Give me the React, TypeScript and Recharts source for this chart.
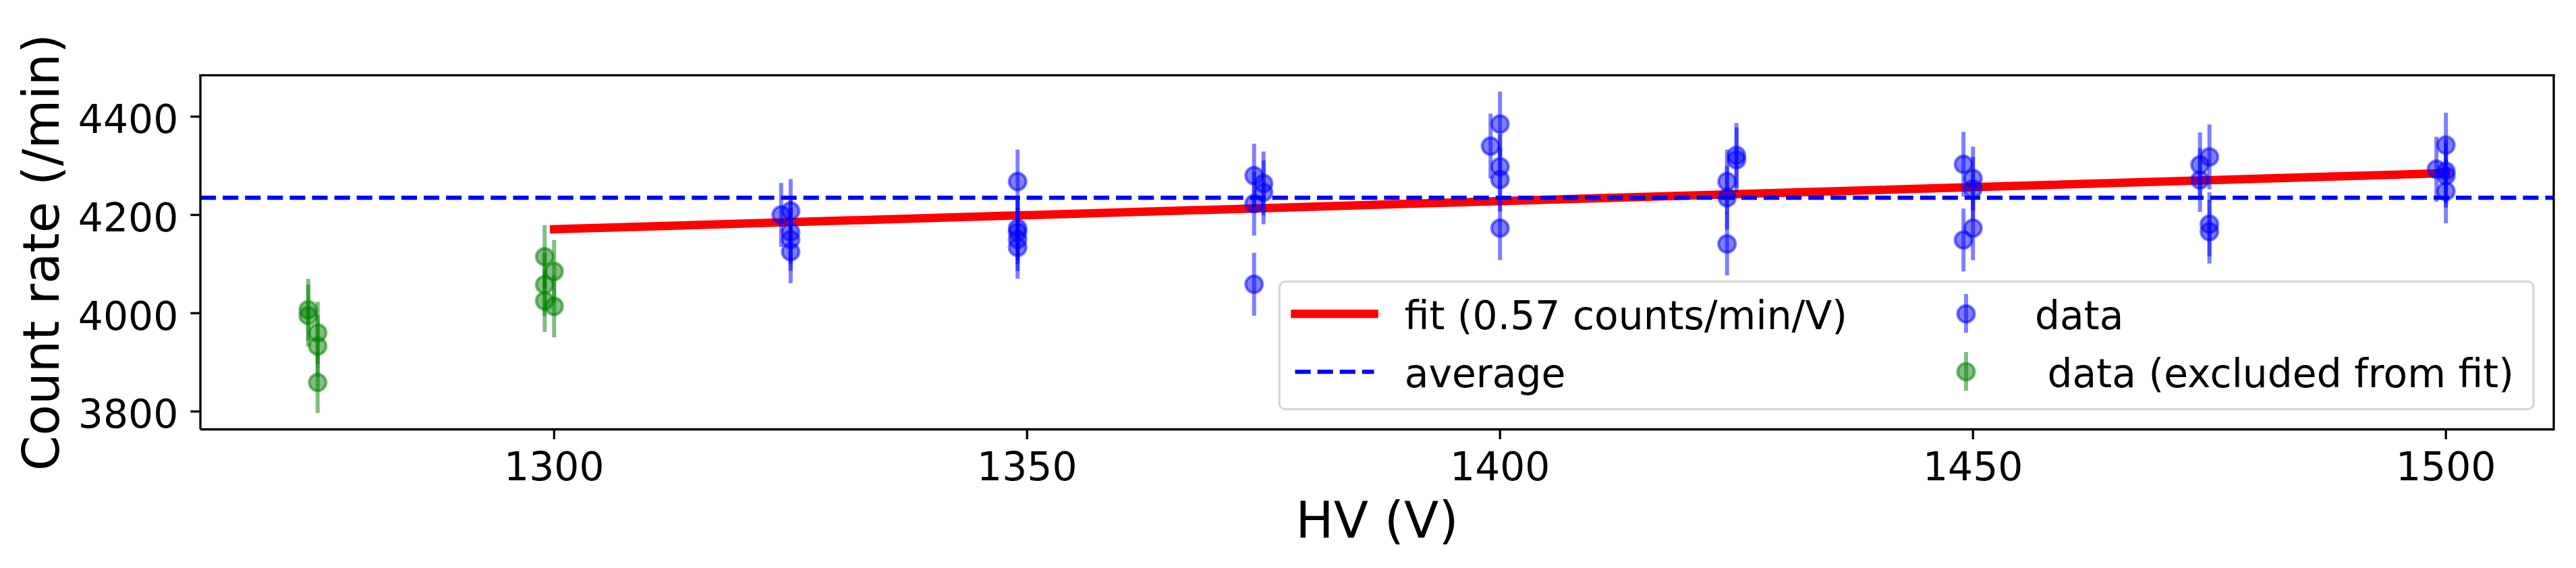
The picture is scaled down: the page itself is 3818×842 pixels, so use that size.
import React from 'react';
import {
  ScatterChart,
  Scatter,
  XAxis,
  YAxis,
  ErrorBar,
  ReferenceLine,
  Legend,
  Label,
} from 'recharts';

// ---------- data ----------
const dataHV = [
  1324, 1325, 1325, 1325, 1325,
  1349, 1349, 1349, 1349, 1349,
  1374, 1374, 1374, 1375, 1375,
  1399, 1400, 1400, 1400, 1400,
  1424, 1424, 1424, 1425, 1425,
  1449, 1449, 1450, 1450, 1450,
  1474, 1474, 1475, 1475, 1475,
  1499, 1500, 1500, 1500, 1500,
];
const dataRate = [
  4200, 4208, 4165, 4150, 4125,
  4268, 4173, 4165, 4150, 4134,
  4280, 4223, 4059, 4264, 4246,
  4340, 4385, 4298, 4272, 4173,
  4268, 4235, 4141, 4321, 4312,
  4303, 4149, 4274, 4253, 4173,
  4302, 4271, 4318, 4181, 4166,
  4293, 4342, 4289, 4280, 4248,
];
const dataErr = [
  65, 65, 65, 64, 64,
  65, 65, 65, 64, 64,
  65, 65, 64, 65, 65,
  66, 66, 66, 65, 65,
  65, 65, 64, 66, 66,
  66, 64, 65, 65, 65,
  66, 65, 66, 65, 65,
  66, 66, 65, 65, 65,
];

const excludedHV = [1274, 1274, 1275, 1275, 1275, 1299, 1299, 1299, 1300, 1300];
const excludedRate = [4007, 3995, 3960, 3933, 3859, 4115, 4058, 4025, 4085, 4014];
const excludedErr = [63, 63, 63, 63, 62, 64, 64, 63, 64, 63];

const fitHV = [1300, 1500];
const fitRate = [4171, 4285];
const averageRate = 4235;

const xTicks = [1300, 1350, 1400, 1450, 1500];
const yTicks = [3800, 4000, 4200, 4400];
const xDomain = [1262.6, 1511.4];
const yDomain = [3763.6, 4484];

const titleText = 'He3';
const xLabelText = 'HV (V)';
const yLabelText = 'Count rate (/min)';
const legendLabels = ['fit (0.57 counts/min/V)', 'average', 'data', ' data (excluded from fit)'];

// ---------- derived tables ----------
const dataPoints = dataHV.map((x, i) => ({ x, y: dataRate[i], err: dataErr[i] }));
const excludedPoints = excludedHV.map((x, i) => ({ x, y: excludedRate[i], err: excludedErr[i] }));
const fitSegment = fitHV.map((x, i) => ({ x, y: fitRate[i] }));

// ---------- styles ----------
const FONT = '"DejaVu Sans", Verdana, sans-serif';
const TICK_FS = 58.33;
const LABEL_FS = 75;
const SPINE = 3.3;
const BLUE = '#0000ff';
const GREEN = '#008000';
const RED = '#ff0000';

const makeDot = (color: string) => (props: any) => {
  const { cx, cy } = props;
  if (cx == null || cy == null) return <g />;
  return (
    <circle
      cx={cx}
      cy={cy}
      r={12.5}
      fill={color}
      fillOpacity={0.5}
      stroke={color}
      strokeOpacity={0.5}
      strokeWidth={4.2}
    />
  );
};

const XTick = (props: any) => {
  const { x, y, payload } = props;
  return (
    <text x={x} y={y + 60.6} textAnchor="middle" fontFamily={FONT} fontSize={TICK_FS} fill="#000">
      {payload.value}
    </text>
  );
};

const YTick = (props: any) => {
  const { x, y, payload } = props;
  return (
    <text x={x} y={y + 24.3} textAnchor="end" fontFamily={FONT} fontSize={TICK_FS} fill="#000">
      {payload.value}
    </text>
  );
};

const XLabelContent = (props: any) => {
  const vb = props.viewBox || {};
  const cx = vb.x != null ? vb.x + vb.width / 2 : 2041;
  return (
    <text x={cx} y={796.7} textAnchor="middle" fontFamily={FONT} fontSize={LABEL_FS} fill="#000">
      {xLabelText}
    </text>
  );
};

const TitleContent = (props: any) => {
  const vb = props.viewBox || {};
  const cx = vb.x != null ? vb.x + vb.width / 2 : 2041;
  return (
    <text x={cx} y={88.3} textAnchor="middle" fontFamily={FONT} fontSize={LABEL_FS} fill="#000">
      {titleText}
    </text>
  );
};

const YLabelContent = (props: any) => {
  const vb = props.viewBox || {};
  const cy = vb.y != null ? vb.y + vb.height / 2 : 374;
  const bx = 87.5;
  return (
    <text
      x={bx}
      y={cy}
      transform={`rotate(-90 ${bx} ${cy})`}
      textAnchor="middle"
      fontFamily={FONT}
      fontSize={LABEL_FS}
      fill="#000"
    >
      {yLabelText}
    </text>
  );
};

const LegendContent = () => {
  const fs = TICK_FS;
  return (
    <svg width={1866} height={197} style={{ display: 'block', overflow: 'visible' }}>
      <rect
        x={3.3}
        y={3.3}
        width={1858.7}
        height={189.4}
        rx={9}
        ry={9}
        fill="#ffffff"
        fillOpacity={0.8}
        stroke="#cccccc"
        strokeOpacity={0.8}
        strokeWidth={3.3}
      />
      <line x1={26.5} x2={143.5} y1={51.3} y2={51.3} stroke={RED} strokeWidth={12.5} strokeLinecap="square" />
      <text x={188.7} y={74.3} fontFamily={FONT} fontSize={fs} fill="#000">{legendLabels[0]}</text>

      <line x1={26.5} x2={143.5} y1={137} y2={137} stroke={BLUE} strokeWidth={6.25} strokeDasharray="23.1 10" />
      <text x={188.7} y={159.5} fontFamily={FONT} fontSize={fs} fill="#000">{legendLabels[1]}</text>

      <line x1={1021} x2={1021} y1={22} y2={79.3} stroke={BLUE} strokeOpacity={0.5} strokeWidth={6} />
      <circle cx={1021} cy={51.3} r={12.5} fill={BLUE} fillOpacity={0.5} stroke={BLUE} strokeOpacity={0.5} strokeWidth={4.2} />
      <text x={1123} y={74.3} fontFamily={FONT} fontSize={fs} fill="#000" style={{ whiteSpace: 'pre' }}>{legendLabels[2]}</text>

      <line x1={1021} x2={1021} y1={108} y2={165.3} stroke={GREEN} strokeOpacity={0.5} strokeWidth={6} />
      <circle cx={1021} cy={137} r={12.5} fill={GREEN} fillOpacity={0.5} stroke={GREEN} strokeOpacity={0.5} strokeWidth={4.2} />
      <text x={1123} y={159.5} fontFamily={FONT} fontSize={fs} fill="#000" style={{ whiteSpace: 'pre' }}>{legendLabels[3]}</text>
    </svg>
  );
};

export default function App() {
  return (
    <div style={{ position: 'absolute', left: 0, top: 0, width: 3818, height: 842, background: '#fff' }}>
      <ScatterChart width={3818} height={842} margin={{ top: 111.7, right: 33, bottom: 0, left: 0 }}>
        <XAxis
          xAxisId="b"
          type="number"
          dataKey="x"
          domain={xDomain}
          ticks={xTicks}
          interval={0}
          allowDataOverflow
          height={205.5}
          axisLine={{ stroke: '#000', strokeWidth: SPINE }}
          tickLine={{ stroke: '#000', strokeWidth: SPINE }}
          tickSize={14.6}
          tickMargin={0}
          tick={<XTick />}
        >
          <Label content={<XLabelContent />} />
        </XAxis>
        <XAxis
          xAxisId="t"
          orientation="top"
          type="number"
          dataKey="x"
          domain={xDomain}
          allowDataOverflow
          height={0}
          tick={false}
          tickLine={false}
          axisLine={false}
        >
          <Label content={<TitleContent />} />
        </XAxis>
        <YAxis
          yAxisId="l"
          type="number"
          dataKey="y"
          domain={yDomain}
          ticks={yTicks}
          interval={0}
          allowDataOverflow
          width={297}
          axisLine={{ stroke: '#000', strokeWidth: SPINE }}
          tickLine={{ stroke: '#000', strokeWidth: SPINE }}
          tickSize={14.6}
          tickMargin={18.1}
          tick={<YTick />}
        >
          <Label content={<YLabelContent />} />
        </YAxis>

        <ReferenceLine
          xAxisId="b"
          yAxisId="l"
          segment={fitSegment}
          stroke={RED}
          strokeWidth={12.5}
          strokeLinecap="square"
        />
        <ReferenceLine
          xAxisId="b"
          yAxisId="l"
          y={averageRate}
          stroke={BLUE}
          strokeWidth={6.25}
          strokeDasharray="23.1 10"
        />

        <Scatter
          xAxisId="b"
          yAxisId="l"
          name="data"
          data={dataPoints}
          dataKey="y"
          shape={makeDot(BLUE)}
          isAnimationActive={false}
        >
          <ErrorBar
            dataKey="err"
            direction="y"
            width={0}
            stroke={BLUE}
            strokeOpacity={0.5}
            strokeWidth={6}
            isAnimationActive={false}
          />
        </Scatter>
        <Scatter
          xAxisId="b"
          yAxisId="l"
          name="excluded"
          data={excludedPoints}
          dataKey="y"
          shape={makeDot(GREEN)}
          isAnimationActive={false}
        >
          <ErrorBar
            dataKey="err"
            direction="y"
            width={0}
            stroke={GREEN}
            strokeOpacity={0.5}
            strokeWidth={6}
            isAnimationActive={false}
          />
        </Scatter>

        {/* top and right spines of the axes box */}
        <ReferenceLine
          xAxisId="b"
          yAxisId="l"
          y={yDomain[1]}
          stroke="#000"
          strokeWidth={SPINE}
          strokeLinecap="square"
        />
        <ReferenceLine
          xAxisId="b"
          yAxisId="l"
          x={xDomain[1]}
          stroke="#000"
          strokeWidth={SPINE}
          strokeLinecap="square"
        />

        <Legend
          verticalAlign="middle"
          align="center"
          layout="horizontal"
          wrapperStyle={{ left: 1893, top: 414, width: 1866, height: 197 }}
          content={<LegendContent />}
        />
      </ScatterChart>
    </div>
  );
}
